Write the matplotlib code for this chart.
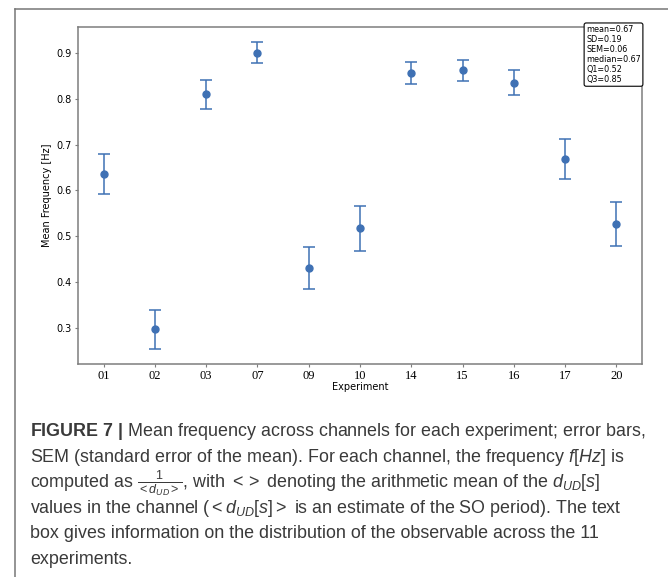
import numpy as np
import matplotlib
matplotlib.use('Agg')
import matplotlib.pyplot as plt
from matplotlib.lines import Line2D

## data
experiments = ['01', '02', '03', '07', '09', '10', '14', '15', '16', '17', '20']
mean_freq = [0.636, 0.296, 0.810, 0.901, 0.431, 0.517, 0.856, 0.863, 0.836, 0.669, 0.527]
sem = [0.044, 0.042, 0.031, 0.023, 0.046, 0.050, 0.024, 0.023, 0.028, 0.043, 0.048]

caption = [
    r'$\mathbf{FIGURE\ 7\ |}$ Mean frequency across channels for each experiment; error bars,',
    r'SEM (standard error of the mean). For each channel, the frequency $f[Hz]$ is',
    r'computed as $\frac{1}{<d_{UD}>}$, with $<>$ denoting the arithmetic mean of the $d_{UD}[s]$',
    r'values in the channel ($< d_{UD}[s] >$ is an estimate of the SO period). The text',
    r'box gives information on the distribution of the observable across the 11',
    r'experiments.',
]

plt.rcParams['mathtext.fontset'] = 'custom'
plt.rcParams['mathtext.rm'] = 'Liberation Sans'
plt.rcParams['mathtext.it'] = 'Liberation Sans:italic'
plt.rcParams['mathtext.bf'] = 'Liberation Sans:bold'

blue = '#3f71b4'
grey = '#7d7d7d'

fig = plt.figure(figsize=(6.68, 5.77), dpi=100)
ax = fig.add_axes([0.1168, 0.3692, 0.8443, 0.584])

points = np.arange(len(experiments))
ax.errorbar(points, mean_freq, yerr=sem, fmt='o', color=blue, ecolor=blue,
            markersize=5, elinewidth=1.1, capsize=4, capthick=1.1)

ax.set_xticks(points)
ax.set_xticklabels(experiments, family='Liberation Serif', fontsize=9)
ax.set_yticks([0.3, 0.4, 0.5, 0.6, 0.7, 0.8, 0.9])
ax.tick_params(axis='y', labelsize=7, length=2.5, width=0.8, color=grey, pad=2)
ax.tick_params(axis='x', length=2.5, width=0.8, color=grey, pad=2)
for s in ax.spines.values():
    s.set_color(grey)
    s.set_linewidth(1.1)

ax.set_ylabel('Mean Frequency [Hz]', fontsize=7, labelpad=3)
ax.set_xlabel('Experiment', fontsize=7, labelpad=0)

# summary of the distribution
vals = np.array(mean_freq)
stats = (f'mean={vals.mean():.2f}\nSD={vals.std():.2f}\n'
         f'SEM={vals.std() / np.sqrt(len(vals)):.2f}\nmedian={np.median(vals):.2f}\n'
         f'Q1={np.percentile(vals, 25):.2f}\nQ3={np.percentile(vals, 75):.2f}')
ax.text(0.998, 1.006, stats, transform=ax.transAxes, ha='right', va='top',
        multialignment='left', fontsize=5.8, linespacing=1.15,
        bbox=dict(boxstyle='round,pad=0.25', fc='white', ec='black', lw=0.8))

# page frame
fig.add_artist(Line2D([15 / 668, 1], [1 - 9 / 577, 1 - 9 / 577], color='#777777', lw=1.1))
fig.add_artist(Line2D([15 / 668, 15 / 668], [0, 1 - 9 / 577], color='#777777', lw=1.1))

for i, line in enumerate(caption):
    fig.text(30 / 668, 1 - (432 + i * 25.5) / 577, line, ha='left', va='center',
             family='Liberation Sans', fontsize=12.9, color='#3a3a3a')

fig.savefig('out.png', dpi=100)
